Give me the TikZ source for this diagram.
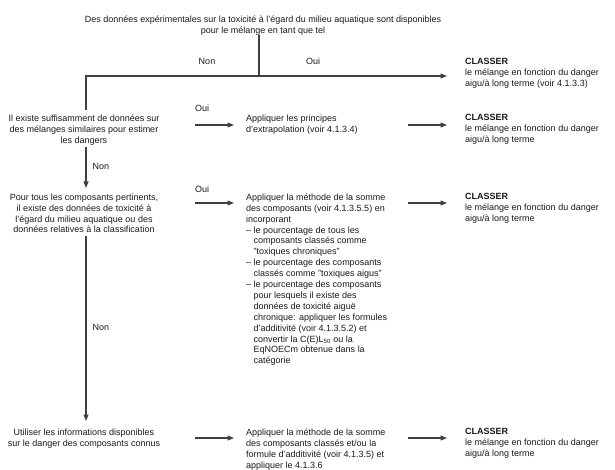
\documentclass[tikz,border=0pt]{standalone}
\usepackage{fontspec}
\setmainfont{Liberation Sans}
\usetikzlibrary{arrows.meta}
\newcommand{\hangin}{\phantom{–~}}
\begin{document}
\begin{tikzpicture}[x=1pt,y=-1pt,
  every node/.style={font=\fontsize{9}{10.9}\selectfont, text=black!90, inner sep=0pt},
  ctr/.style={anchor=north, align=center},
  lft/.style={anchor=north west, align=left},
  conn/.style={draw=black!75, line width=1.1pt},
  arr/.style={conn, -{Triangle[length=6.5pt,width=5pt]}}]
\useasboundingbox (0,0) rectangle (615,470);

% top question
\node[ctr] (t0) at (263,15.5) {Des données expérimentales sur la toxicité à l'égard du milieu aquatique sont disponibles\\pour le mélange en tant que tel};
\coordinate (j1) at (259,76);
\coordinate (k1) at (86,76);
\coordinate (e1) at (447,76);
\node (n1) at (207,61) {Non};
\node (o1) at (313,61) {Oui};
\node[lft] (c1) at (465,58.5) {\textbf{CLASSER}\\le mélange en fonction du danger\\aigu/à long terme (voir 4.1.3.3)};

% row 2
\node[ctr] (q2) at (84,114.5) {Il existe suffisamment de données sur\\des mélanges similaires pour estimer\\les dangers};
\node (o2) at (202,108) {Oui};
\node[lft] (m2) at (246,114.5) {Appliquer les principes\\d'extrapolation (voir 4.1.3.4)};
\node[lft] (c2) at (465,114.5) {\textbf{CLASSER}\\le mélange en fonction du danger\\aigu/à long terme};
\coordinate (r2a) at (195,125);
\coordinate (r2b) at (234,125);
\coordinate (r2c) at (408,125);
\coordinate (r2d) at (447,125);

% row 3
\node[ctr] (q3) at (84,193.5) {Pour tous les composants pertinents,\\il existe des données de toxicité à\\l'égard du milieu aquatique ou des\\données relatives à la classification};
\node (o3) at (202,189) {Oui};
\node[lft] (m3) at (246,193.5) {Appliquer la méthode de la somme\\des composants (voir 4.1.3.5.5) en\\incorporant\\–~le pourcentage de tous les\\\hangin composants classés comme\\\hangin "toxiques chroniques"\\–~le pourcentage des composants\\\hangin classés comme "toxiques aigus"\\–~le pourcentage des composants\\\hangin pour lesquels il existe des\\\hangin données de toxicité aiguë\\\hangin chronique: appliquer les formules\\\hangin d'additivité (voir 4.1.3.5.2) et\\\hangin convertir la C(E)L\textsubscript{50} ou la\\\hangin EqNOECm obtenue dans la\\\hangin catégorie};
\node[lft] (c3) at (465,193.5) {\textbf{CLASSER}\\le mélange en fonction du danger\\aigu/à long terme};
\coordinate (r3a) at (195,203);
\coordinate (r3b) at (234,203);
\coordinate (r3c) at (408,203);
\coordinate (r3d) at (447,203);
\node (n2) at (101,166) {Non};

% row 4
\node[ctr] (q4) at (84,428.5) {Utiliser les informations disponibles\\sur le danger des composants connus};
\node[lft] (m4) at (246,428.5) {Appliquer la méthode de la somme\\des composants classés et/ou la\\formule d'additivité (voir 4.1.3.5) et\\appliquer le 4.1.3.6};
\node[lft] (c4) at (465,428.5) {\textbf{CLASSER}\\le mélange en fonction du danger\\aigu/à long terme};
\coordinate (r4a) at (195,438);
\coordinate (r4b) at (234,438);
\coordinate (r4c) at (408,438);
\coordinate (r4d) at (447,438);
\node (n3) at (101,327) {Non};

% connectors
\draw[conn] (t0.south -| j1) -- (j1);
\draw[arr, shorten <=4pt] (q2.north -| k1) |- (e1);
\draw[arr] (r2a) -- (r2b);
\draw[arr] (r2c) -- (r2d);
\draw[arr, shorten <=2pt, shorten >=5.5pt] (q2.south -| k1) -- (q3.north -| k1);
\draw[arr] (r3a) -- (r3b);
\draw[arr] (r3c) -- (r3d);
\draw[arr, shorten <=3pt, shorten >=7.5pt] (q3.south -| k1) -- (q4.north -| k1);
\draw[arr] (r4a) -- (r4b);
\draw[arr] (r4c) -- (r4d);
\end{tikzpicture}
\end{document}
